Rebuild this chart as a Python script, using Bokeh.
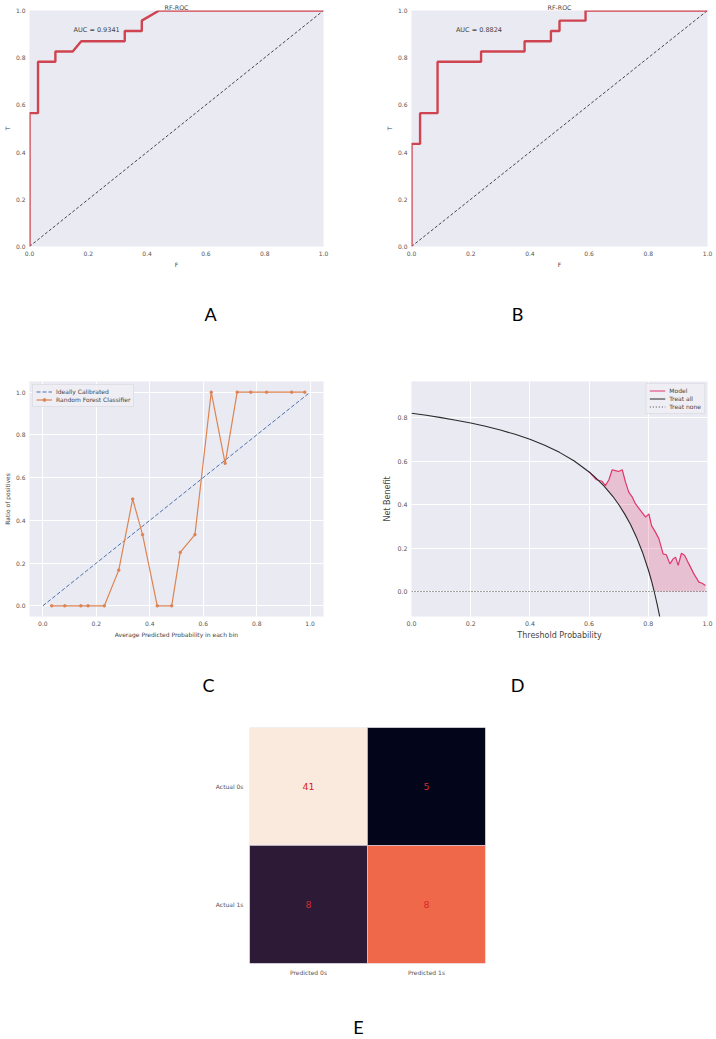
from bokeh.plotting import figure
from bokeh.models import (Legend, LegendItem, FixedTicker, Range1d, FactorRange, ColumnDataSource,
                          PrintfTickFormatter)
from bokeh.layouts import column, row
from bokeh.embed import file_html
from bokeh.resources import INLINE
from bokeh.core.properties import value
import numpy as np

# ---------------- data ----------------
# Panel A ROC
roc_a_fpr = [0.0, 0.0, 0.029, 0.029, 0.088, 0.088, 0.147, 0.176, 0.324, 0.324, 0.382, 0.382, 0.441, 1.0]
roc_a_tpr = [0.0, 0.565, 0.565, 0.783, 0.783, 0.826, 0.826, 0.870, 0.870, 0.913, 0.913, 0.957, 1.0, 1.0]
auc_a = "AUC = 0.9341"
# Panel B ROC
roc_b_fpr = [0.0, 0.0, 0.029, 0.029, 0.088, 0.088, 0.235, 0.235, 0.382, 0.382, 0.471, 0.471, 0.500, 0.500, 0.588, 0.588, 1.0]
roc_b_tpr = [0.0, 0.435, 0.435, 0.565, 0.565, 0.783, 0.783, 0.826, 0.826, 0.870, 0.870, 0.913, 0.913, 0.957, 0.957, 1.0, 1.0]
auc_b = "AUC = 0.8824"
roc_title = "RF-ROC"
diag = [0.0, 1.0]

# Panel C calibration
cal_x = [0.033, 0.082, 0.142, 0.169, 0.230, 0.284, 0.336, 0.373, 0.428, 0.482, 0.514, 0.569, 0.630, 0.682, 0.727, 0.778, 0.837, 0.931, 0.980]
cal_y = [0.0, 0.0, 0.0, 0.0, 0.0, 0.167, 0.5, 0.333, 0.0, 0.0, 0.25, 0.333, 1.0, 0.667, 1.0, 1.0, 1.0, 1.0, 1.0]

# Panel D decision curve
all_x = [0.0, 0.05, 0.1, 0.15, 0.2, 0.25, 0.3, 0.35, 0.4, 0.45, 0.5, 0.55, 0.6, 0.62, 0.65, 0.68, 0.7, 0.72, 0.74, 0.76, 0.78, 0.8, 0.81, 0.82, 0.83, 0.84]
all_y = [0.820, 0.811, 0.800, 0.788, 0.775, 0.760, 0.743, 0.723, 0.700, 0.673, 0.640, 0.600, 0.550, 0.526, 0.486, 0.438, 0.400, 0.357, 0.308, 0.250, 0.182, 0.100, 0.053, 0.000, -0.059, -0.125]
model_x = [0.600, 0.625, 0.644, 0.655, 0.667, 0.678, 0.689, 0.700, 0.712, 0.723, 0.734, 0.746, 0.757, 0.774, 0.791, 0.802, 0.811, 0.824, 0.836, 0.850, 0.861, 0.873, 0.884, 0.892, 0.901, 0.912, 0.923, 0.937, 0.954, 0.971, 0.982, 0.993]
model_y = [0.550, 0.514, 0.507, 0.487, 0.514, 0.560, 0.556, 0.552, 0.560, 0.503, 0.457, 0.434, 0.403, 0.372, 0.342, 0.357, 0.303, 0.273, 0.242, 0.173, 0.169, 0.127, 0.150, 0.158, 0.120, 0.176, 0.166, 0.127, 0.081, 0.043, 0.038, 0.028]
none_x = [0.0, 1.0]
none_y = [0.0, 0.0]

# Panel E confusion matrix
cm_pred = ["Predicted 0s", "Predicted 1s", "Predicted 0s", "Predicted 1s"]
cm_actual = ["Actual 0s", "Actual 0s", "Actual 1s", "Actual 1s"]
cm_values = [41, 5, 8, 8]
cm_colors = ["#FAE9DD", "#03051A", "#2D1A36", "#F0684A"]

panel_letters = ["A", "B", "C", "D", "E"]

FONT = "DejaVu Sans"
BG = "#EAEAF2"


def style(p, grid, tick_size="6px", label_size="6px", numeric=True):
    p.background_fill_color = BG
    p.border_fill_color = "white"
    p.outline_line_color = None
    for ax in p.axis:
        ax.axis_line_color = None
        ax.major_tick_line_color = None
        ax.minor_tick_line_color = None
        ax.major_tick_out = 0
        ax.major_tick_in = 0
        ax.minor_tick_out = 0
        ax.minor_tick_in = 0
        ax.major_label_text_font = FONT
        ax.major_label_text_font_size = tick_size
        ax.major_label_text_color = "#555555"
        ax.axis_label_text_font = FONT
        ax.axis_label_text_font_style = "normal"
        ax.axis_label_text_font_size = label_size
        ax.axis_label_text_color = "#444444"
        ax.major_label_standoff = 4
        ax.axis_label_standoff = 2
        if numeric:
            ax.formatter = PrintfTickFormatter(format="%.1f")
    if grid:
        p.grid.grid_line_color = "white"
        p.grid.grid_line_width = 1
    else:
        p.grid.grid_line_color = None


def strip(h, letters, xs, y):
    s = figure(width=716, height=h, output_backend="svg", toolbar_location=None,
               x_range=Range1d(0, 716), y_range=Range1d(0, h),
               min_border=0, x_axis_location=None, y_axis_location=None)
    s.outline_line_color = None
    s.grid.grid_line_color = None
    s.background_fill_color = "white"
    s.border_fill_color = "white"
    s.text(x=xs, y=[y] * len(xs), text=letters, text_font=value("Lato"), text_font_size="18px",
           text_color="black", text_align="center", text_baseline="middle")
    return s


def roc_fig(fpr, tpr, auc_text, left, right):
    p = figure(width=358, height=290, output_backend="svg", toolbar_location=None,
               x_range=Range1d(0, 1), y_range=Range1d(0, 1),
               min_border_left=left, min_border_right=right, min_border_top=10, min_border_bottom=44)
    style(p, grid=False)
    ticks = [0.0, 0.2, 0.4, 0.6, 0.8, 1.0]
    p.xaxis.ticker = FixedTicker(ticks=ticks)
    p.yaxis.ticker = FixedTicker(ticks=ticks)
    p.xaxis.axis_label = "F"
    p.yaxis.axis_label = "T"
    p.title.text = roc_title
    p.title.align = "center"
    p.title.text_font = FONT
    p.title.text_font_size = "6.3px"
    p.title.text_font_style = "normal"
    p.title.text_color = "#444444"
    p.title.standoff = 0
    p.line(diag, diag, line_color="#333333", line_width=0.9, line_dash="3 2")
    p.line(fpr, tpr, line_color="#cf4451", line_width=2.4)
    p.text(x=[0.15], y=[0.9], text=[auc_text], text_font=value(FONT), text_font_size="6.5px",
           text_color="#444444", text_baseline="bottom", text_align="left")
    return p


pA = roc_fig(roc_a_fpr, roc_a_tpr, auc_a, 27, 35)
pB = roc_fig(roc_b_fpr, roc_b_tpr, auc_b, 53, 9)
s1 = strip(50, panel_letters[0:2], [210, 517], 27)


def style_legend(lg):
    lg.label_text_font = FONT
    lg.label_text_font_size = "6px"
    lg.label_text_color = "#444444"
    lg.label_height = 7
    lg.glyph_height = 7
    lg.glyph_width = 16
    lg.spacing = 1
    lg.padding = 3
    lg.margin = 3
    lg.label_standoff = 4
    lg.border_line_color = "#d0d0d8"
    lg.border_line_width = 0.8
    lg.background_fill_color = "#eeeef4"
    lg.background_fill_alpha = 0.9


# ---- Panel C ----
pC = figure(width=358, height=306, output_backend="svg", toolbar_location=None,
            x_range=Range1d(-0.05, 1.05), y_range=Range1d(-0.05, 1.05),
            min_border_left=27, min_border_right=35, min_border_top=41, min_border_bottom=30)
style(pC, grid=True)
t5 = [0.0, 0.2, 0.4, 0.6, 0.8, 1.0]
pC.xaxis.ticker = FixedTicker(ticks=t5)
pC.yaxis.ticker = FixedTicker(ticks=t5)
pC.xaxis.axis_label = "Average Predicted Probability in each bin"
pC.yaxis.axis_label = "Ratio of positives"
r_ideal = pC.line(diag, diag, line_color="#4c72b0", line_width=1.0, line_dash="4 2")
r_rf = pC.line(cal_x, cal_y, line_color="#dd8452", line_width=1.2)
r_rfm = pC.scatter(cal_x, cal_y, marker="circle", size=2.5, fill_color="#dd8452", line_color="#dd8452")
legC = Legend(items=[LegendItem(label="Ideally Calibrated", renderers=[r_ideal]),
                     LegendItem(label="Random Forest Classifier", renderers=[r_rf, r_rfm])],
              location="top_left")
pC.add_layout(legC)
style_legend(legC)

# ---- Panel D ----
pD = figure(width=358, height=306, output_backend="svg", toolbar_location=None,
            x_range=Range1d(0, 1), y_range=Range1d(-0.115, 0.966),
            min_border_left=53, min_border_right=9, min_border_top=41, min_border_bottom=30)
style(pD, grid=True, tick_size="6.3px", label_size="8px")
pD.xaxis.ticker = FixedTicker(ticks=t5)
pD.yaxis.ticker = FixedTicker(ticks=[0.0, 0.2, 0.4, 0.6, 0.8])
pD.xaxis.axis_label = "Threshold Probability"
pD.yaxis.axis_label = "Net Benefit"
mx = np.array(model_x)
lower = np.maximum(np.interp(mx, all_x, all_y), 0.0)
pD.varea(x=model_x, y1=model_y, y2=lower, fill_color="#e0466f", fill_alpha=0.25)
r_model = pD.line(model_x, model_y, line_color="#e0366a", line_width=1.2)
r_all = pD.line(all_x, all_y, line_color="#2a2a2a", line_width=1.1)
r_none = pD.line(none_x, none_y, line_color="#444444", line_width=1.0, line_dash="1 2")
legD = Legend(items=[LegendItem(label="Model", renderers=[r_model]),
                     LegendItem(label="Treat all", renderers=[r_all]),
                     LegendItem(label="Treat none", renderers=[r_none])],
              location="top_right")
pD.add_layout(legD)
style_legend(legD)
legD.margin = 2
s2 = strip(54, panel_letters[2:4], [208, 517], 16)

# ---- Panel E ----
pE = figure(width=716, height=290, output_backend="svg", toolbar_location=None,
            x_range=FactorRange(factors=["Predicted 0s", "Predicted 1s"]),
            y_range=FactorRange(factors=["Actual 1s", "Actual 0s"]),
            min_border_left=249, min_border_right=231, min_border_top=27, min_border_bottom=27)
style(pE, grid=False, numeric=False)
pE.background_fill_color = "white"
pE.xaxis.major_label_standoff = 5
pE.yaxis.major_label_standoff = 6
srcE = ColumnDataSource(dict(x=cm_pred, y=cm_actual, v=[str(v) for v in cm_values], c=cm_colors))
pE.rect(x="x", y="y", width=1, height=1, fill_color="c", line_color="#d8d4e4", line_width=0.6, source=srcE)
pE.text(x="x", y="y", text="v", text_font=value(FONT), text_font_size="9.5px", text_color="#d42a2a",
        text_align="center", text_baseline="middle", source=srcE)
s3 = strip(48, panel_letters[4:5], [358], 12)

layout = column(row(pA, pB), s1, row(pC, pD), s2, row(pE), s3)
open("out.html", "w").write(file_html(layout, INLINE))
